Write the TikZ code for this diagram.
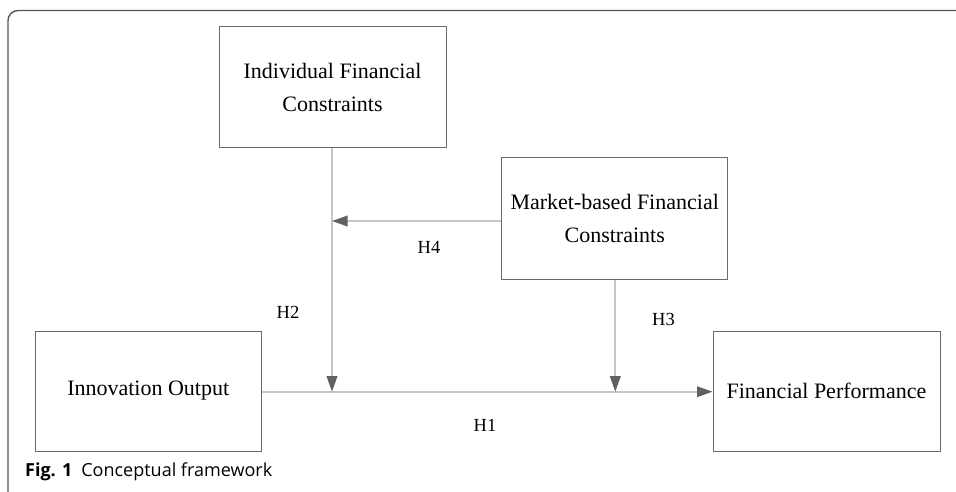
\documentclass[tikz,border=0pt]{standalone}
\usepackage{fontspec}
\setmainfont{Liberation Serif}
\newfontfamily\capfont{Open Sans}
\usetikzlibrary{arrows.meta}
\definecolor{caixa}{HTML}{6A6A6A}
\definecolor{seta}{HTML}{C6C6C6}
\definecolor{ponta}{HTML}{606060}
\begin{document}
\begin{tikzpicture}[x=1pt, y=-1pt,
	caixa/.style={draw=caixa, line width=1pt, align=center, inner sep=0pt,
		minimum width=227pt, minimum height=120pt,
		font=\fontsize{22}{33.5}\selectfont},
	seta/.style={draw=seta, line width=1.8pt,
		-{Triangle[length=15.5pt, width=10.5pt, color=ponta]}},
	rotulo/.style={font=\fontsize{18.5}{22}\selectfont}]
	\useasboundingbox (0,0) rectangle (956,492);
	% Moldura
	\draw[draw=caixa!80!black, line width=1.4pt, rounded corners=10pt] (8,492) -- (8,10.5) -- (956,10.5);
	
	% Caixas
	\node[caixa, minimum height=121pt] (ifc) at (332.5,87.5) {Individual Financial\\Constraints};
	\node[caixa, minimum width=226pt, minimum height=121pt] (mfc) at (614.7,218.5) {Market-based Financial\\Constraints};
	\node[caixa, minimum width=226.5pt] (io) at (148.25,391) {Innovation Output};
	\node[caixa] (fp) at (826.5,391) {Financial Performance};
	
	% Pontos de chegada
	\coordinate (j1) at (332,391.7);
	\coordinate (j2) at (615.3,391.7);
	\coordinate (k) at (332,221);
	
	% Setas
	\draw[seta] (io.east |- j1) -- (fp.west |- j1);
	\draw[seta] (ifc.south -| j1) -- (j1);
	\draw[seta] (mfc.south -| j2) -- (j2);
	\draw[seta] (mfc.west |- k) -- (k);
	
	% Hipoteses
	\node[rotulo] (h1) at (485,425) {H1};
	\node[rotulo] (h2) at (288,312) {H2};
	\node[rotulo] (h3) at (663.5,319) {H3};
	\node[rotulo] (h4) at (429,247) {H4};
	
	% Legenda
	\node[anchor=base west, inner sep=0pt, font=\capfont\fontsize{18}{20}\selectfont] (leg) at (25,476) {\textbf{Fig. 1}\hspace{9pt}Conceptual framework};
\end{tikzpicture}
\end{document}
